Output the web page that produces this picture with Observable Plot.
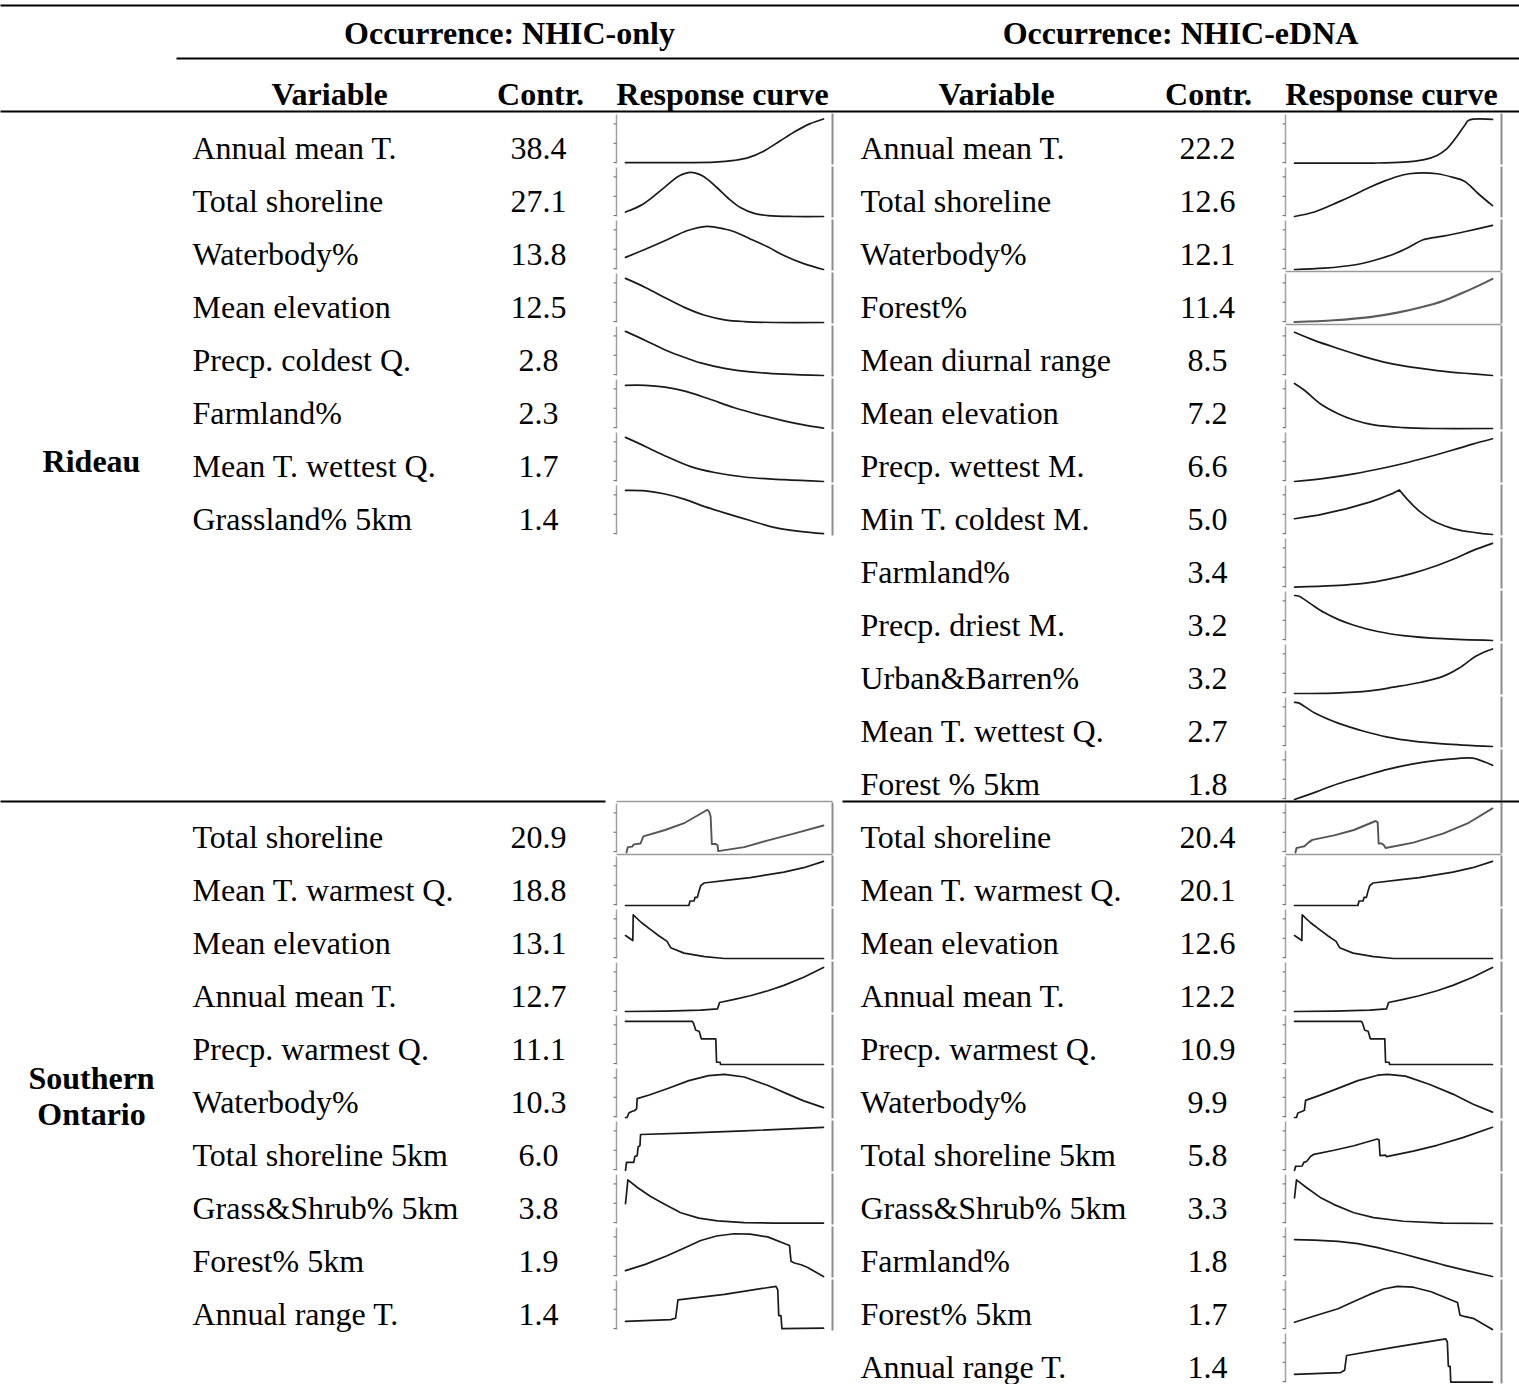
<!DOCTYPE html>
<html><head><meta charset="utf-8">
<script src="https://cdn.jsdelivr.net/npm/d3@7"></script>
<script src="https://cdn.jsdelivr.net/npm/@observablehq/plot@0.6"></script>
<style>body{margin:0;background:#fff}</style>
</head><body><div id="chart"></div>
<script>
// ---------------- DATA ----------------
const regions = ["Rideau", "Southern\nOntario"];
const occurrences = ["Occurrence: NHIC-only", "Occurrence: NHIC-eDNA"];
const columnHeaders = ["Variable", "Contr.", "Response curve"];

const rideauOnlyVars = ["Annual mean T.","Total shoreline","Waterbody%","Mean elevation","Precp. coldest Q.","Farmland%","Mean T. wettest Q.","Grassland% 5km"];
const rideauOnlyContr = [38.4,27.1,13.8,12.5,2.8,2.3,1.7,1.4];
const rideauOnlyCurves = [
 [[0,0.02],[0.3,0.02],[0.45,0.03],[0.55,0.07],[0.62,0.13],[0.7,0.28],[0.78,0.5],[0.86,0.72],[0.93,0.88],[1,0.99]],
 [[0,0.10],[0.09,0.28],[0.2,0.66],[0.27,0.9],[0.33,0.98],[0.39,0.9],[0.46,0.65],[0.52,0.4],[0.58,0.2],[0.65,0.07],[0.72,0.02],[0.85,0],[1,0]],
 [[0,0.27],[0.1,0.45],[0.21,0.66],[0.31,0.86],[0.41,0.96],[0.5,0.9],[0.55,0.84],[0.63,0.68],[0.72,0.5],[0.8,0.31],[0.9,0.13],[1,0]],
 [[0,0.98],[0.1,0.78],[0.2,0.55],[0.3,0.33],[0.4,0.16],[0.5,0.06],[0.6,0.02],[0.75,0],[1,0]],
 [[0,0.98],[0.1,0.78],[0.21,0.55],[0.3,0.4],[0.38,0.28],[0.5,0.16],[0.63,0.08],[0.8,0.03],[1,0]],
 [[0,0.96],[0.1,0.96],[0.2,0.92],[0.3,0.83],[0.42,0.66],[0.55,0.46],[0.68,0.3],[0.8,0.17],[0.9,0.08],[1,0.01]],
 [[0,0.98],[0.1,0.78],[0.21,0.55],[0.33,0.33],[0.45,0.2],[0.6,0.1],[0.8,0.04],[1,0]],
 [[0,0.98],[0.1,0.97],[0.2,0.9],[0.3,0.78],[0.4,0.62],[0.5,0.48],[0.63,0.31],[0.75,0.16],[0.88,0.07],[1,0.02]]
];

const rideauEdnaVars = ["Annual mean T.","Total shoreline","Waterbody%","Forest%","Mean diurnal range","Mean elevation","Precp. wettest M.","Min T. coldest M.","Farmland%","Precp. driest M.","Urban&Barren%","Mean T. wettest Q.","Forest % 5km"];
const rideauEdnaContr = [22.2,12.6,12.1,11.4,8.5,7.2,6.6,5.0,3.4,3.2,3.2,2.7,1.8];
const rideauEdnaCurves = [
 [[0,0.01],[0.4,0.01],[0.55,0.03],[0.65,0.08],[0.72,0.18],[0.77,0.33],[0.82,0.6],[0.86,0.85],[0.88,0.96],[1,0.98]],
 [[0,0],[0.1,0.1],[0.22,0.32],[0.3,0.48],[0.38,0.65],[0.45,0.78],[0.52,0.89],[0.58,0.95],[0.65,0.97],[0.72,0.95],[0.8,0.87],[0.86,0.78],[0.93,0.5],[1,0.24]],
 [[0,0],[0.15,0.03],[0.3,0.1],[0.4,0.2],[0.5,0.34],[0.58,0.5],[0.65,0.66],[0.75,0.74],[0.87,0.85],[1,0.98]],
 [[0,0.01],[0.2,0.05],[0.38,0.12],[0.52,0.22],[0.64,0.34],[0.75,0.48],[0.85,0.66],[0.93,0.82],[1,0.97]],
 [[0,0.96],[0.1,0.78],[0.22,0.6],[0.35,0.42],[0.47,0.28],[0.6,0.18],[0.72,0.11],[0.86,0.05],[1,0]],
 [[0,1],[0.05,0.85],[0.13,0.55],[0.22,0.33],[0.3,0.19],[0.4,0.08],[0.55,0.02],[0.7,0],[1,0]],
 [[0,0],[0.15,0.07],[0.3,0.17],[0.45,0.3],[0.55,0.4],[0.68,0.55],[0.8,0.7],[0.9,0.83],[1,0.95]],
 [[0,0.35],[0.06,0.39],[0.12,0.43],[0.17,0.48],[0.22,0.53],[0.26,0.57],[0.3,0.62],[0.34,0.67],[0.38,0.72],[0.42,0.78],[0.46,0.85],[0.5,0.92],[0.53,0.99],[0.55,0.88],[0.57,0.78],[0.6,0.64],[0.63,0.52],[0.66,0.42],[0.69,0.33],[0.72,0.26],[0.76,0.19],[0.8,0.13],[0.85,0.08],[0.9,0.05],[0.95,0.02],[1,0]],
 [[0,0.01],[0.2,0.04],[0.35,0.09],[0.47,0.18],[0.6,0.32],[0.72,0.49],[0.82,0.66],[0.9,0.82],[1,0.98]],
 [[0,1],[0.02,0.99],[0.08,0.82],[0.15,0.62],[0.22,0.47],[0.3,0.34],[0.42,0.2],[0.55,0.11],[0.75,0.04],[1,0]],
 [[0,0],[0.2,0.01],[0.38,0.06],[0.5,0.14],[0.64,0.25],[0.75,0.38],[0.83,0.56],[0.92,0.84],[1,0.99]],
 [[0,0.98],[0.02,0.97],[0.1,0.75],[0.22,0.52],[0.35,0.34],[0.47,0.21],[0.6,0.12],[0.75,0.06],[1,0]],
 [[0,0],[0.11,0.17],[0.22,0.35],[0.35,0.52],[0.47,0.67],[0.6,0.79],[0.72,0.87],[0.82,0.91],[0.9,0.92],[1,0.76]]
];

const southOnlyVars = ["Total shoreline","Mean T. warmest Q.","Mean elevation","Annual mean T.","Precp. warmest Q.","Waterbody%","Total shoreline 5km","Grass&Shrub% 5km","Forest% 5km","Annual range T."];
const southOnlyContr = [20.9,18.8,13.1,12.7,11.1,10.3,6.0,3.8,1.9,1.4];
const southOnlyCurves = [
 [[0.005,0],[0.012,0.12],[0.034,0.13],[0.042,0.18],[0.076,0.2],[0.09,0.36],[0.2,0.5],[0.3,0.66],[0.414,0.95],[0.423,0.9],[0.43,0.8],[0.436,0.19],[0.456,0.19],[0.465,0.16],[0.468,0.03],[0.6,0.12],[0.72,0.27],[0.85,0.42],[1,0.6]],
 [[0,0],[0.32,0],[0.326,0.1],[0.346,0.1],[0.351,0.18],[0.363,0.18],[0.372,0.33],[0.38,0.44],[0.397,0.5],[0.55,0.58],[0.63,0.62],[0.8,0.74],[0.9,0.84],[1,0.98]],
 [[0,0.51],[0.037,0.4],[0.039,0.97],[0.08,0.8],[0.127,0.64],[0.17,0.5],[0.21,0.38],[0.228,0.24],[0.296,0.12],[0.4,0.04],[0.5,0],[1,0]],
 [[0,0],[0.2,0.01],[0.38,0.03],[0.465,0.06],[0.475,0.2],[0.55,0.27],[0.63,0.35],[0.72,0.46],[0.8,0.58],[0.9,0.76],[1,0.98]],
 [[0,0.96],[0.338,0.96],[0.343,0.92],[0.355,0.76],[0.372,0.74],[0.376,0.68],[0.383,0.57],[0.456,0.57],[0.46,0.05],[0.478,0.05],[0.48,0],[1,0]],
 [[0,0],[0.008,0],[0.017,0.1],[0.034,0.14],[0.045,0.15],[0.056,0.19],[0.059,0.42],[0.12,0.5],[0.21,0.64],[0.32,0.82],[0.42,0.93],[0.5,0.96],[0.6,0.9],[0.72,0.71],[0.82,0.52],[0.9,0.37],[1,0.22]],
 [[0,0],[0.005,0.18],[0.042,0.18],[0.047,0.31],[0.059,0.33],[0.064,0.53],[0.073,0.55],[0.076,0.8],[0.3,0.83],[0.6,0.88],[1,0.96]],
 [[0,0.44],[0.012,0.97],[0.06,0.8],[0.127,0.6],[0.2,0.42],[0.279,0.24],[0.37,0.12],[0.465,0.06],[0.6,0.02],[0.75,0.01],[1,0.01]],
 [[0,0.13],[0.1,0.27],[0.21,0.46],[0.3,0.64],[0.38,0.8],[0.46,0.9],[0.549,0.95],[0.63,0.94],[0.718,0.88],[0.828,0.69],[0.836,0.34],[0.853,0.3],[0.887,0.26],[0.92,0.2],[1,0]],
 [[0,0.18],[0.228,0.22],[0.253,0.25],[0.265,0.66],[0.5,0.78],[0.76,0.96],[0.769,0.88],[0.774,0.31],[0.785,0.31],[0.79,0.02],[1,0.03]]
];

const southEdnaVars = ["Total shoreline","Mean T. warmest Q.","Mean elevation","Annual mean T.","Precp. warmest Q.","Waterbody%","Total shoreline 5km","Grass&Shrub% 5km","Farmland%","Forest% 5km","Annual range T."];
const southEdnaContr = [20.4,20.1,12.6,12.2,10.9,9.9,5.8,3.3,1.8,1.7,1.4];
const southEdnaCurves = [
 [[0.005,0],[0.01,0.1],[0.03,0.12],[0.05,0.14],[0.07,0.22],[0.09,0.28],[0.2,0.38],[0.3,0.5],[0.41,0.7],[0.42,0.67],[0.425,0.2],[0.44,0.2],[0.45,0.17],[0.46,0.1],[0.6,0.22],[0.75,0.42],[0.88,0.66],[1,0.98]],
 [[0,0],[0.32,0],[0.326,0.1],[0.346,0.1],[0.351,0.18],[0.363,0.18],[0.372,0.33],[0.38,0.44],[0.397,0.5],[0.55,0.58],[0.63,0.62],[0.8,0.74],[0.9,0.84],[1,0.98]],
 [[0,0.51],[0.037,0.4],[0.039,0.97],[0.08,0.8],[0.127,0.64],[0.17,0.5],[0.21,0.38],[0.228,0.24],[0.296,0.12],[0.4,0.04],[0.5,0],[1,0]],
 [[0,0],[0.2,0.01],[0.38,0.03],[0.465,0.06],[0.475,0.2],[0.55,0.27],[0.63,0.35],[0.72,0.46],[0.8,0.58],[0.9,0.76],[1,0.98]],
 [[0,0.96],[0.338,0.96],[0.343,0.92],[0.355,0.76],[0.372,0.74],[0.376,0.68],[0.383,0.57],[0.456,0.57],[0.46,0.05],[0.478,0.05],[0.48,0],[1,0]],
 [[0,0],[0.01,0],[0.017,0.1],[0.04,0.14],[0.05,0.16],[0.056,0.38],[0.12,0.48],[0.21,0.63],[0.32,0.82],[0.42,0.94],[0.47,0.96],[0.56,0.92],[0.68,0.74],[0.8,0.52],[0.9,0.3],[1,0.12]],
 [[0,0],[0.005,0.09],[0.039,0.1],[0.047,0.18],[0.061,0.2],[0.081,0.31],[0.098,0.36],[0.2,0.45],[0.3,0.55],[0.418,0.7],[0.427,0.68],[0.432,0.33],[0.46,0.34],[0.465,0.31],[0.6,0.43],[0.72,0.56],[0.85,0.73],[1,0.96]],
 [[0,0.57],[0.01,0.97],[0.06,0.8],[0.13,0.58],[0.2,0.42],[0.3,0.24],[0.4,0.13],[0.55,0.05],[0.75,0.01],[1,0]],
 [[0,0.82],[0.1,0.81],[0.22,0.78],[0.32,0.73],[0.42,0.64],[0.55,0.5],[0.65,0.38],[0.75,0.26],[0.87,0.13],[1,0]],
 [[0,0.16],[0.1,0.3],[0.22,0.46],[0.3,0.62],[0.38,0.78],[0.45,0.9],[0.519,0.96],[0.6,0.94],[0.69,0.84],[0.823,0.6],[0.836,0.32],[0.857,0.29],[0.907,0.24],[1,0]],
 [[0,0.18],[0.233,0.22],[0.253,0.27],[0.263,0.6],[0.5,0.78],[0.764,0.97],[0.772,0.9],[0.777,0.36],[0.786,0.36],[0.789,0.01],[1,0.01]]
];

// ---------------- LAYOUT (code) ----------------
const W = 1519, H = 1384;
const ROW0 = 112, ROWH = 53;
const rowTop = r => ROW0 + ROWH * r;
const sides = [
  {varX: 192, contrX: 538, axisX: 616, c0: 625, c1: 823, borderX: 832, hdr: [329, 540, 722], occ: 509},
  {varX: 860, contrX: 1207, axisX: 1285, c0: 1294, c1: 1492, borderX: 1501, hdr: [996, 1208, 1391], occ: 1180}
];
const panels = [
  {region: 0, side: 0, row0: 0, vars: rideauOnlyVars, contr: rideauOnlyContr, curves: rideauOnlyCurves, smooth: true},
  {region: 0, side: 1, row0: 0, vars: rideauEdnaVars, contr: rideauEdnaContr, curves: rideauEdnaCurves, smooth: true},
  {region: 1, side: 0, row0: 13, vars: southOnlyVars, contr: southOnlyContr, curves: southOnlyCurves, smooth: false},
  {region: 1, side: 1, row0: 13, vars: southEdnaVars, contr: southEdnaContr, curves: southEdnaCurves, smooth: false}
];
const boxed = new Set(["0-1-3", "1-0-0", "1-1-0"]);
const cuspKeys = new Set(["0-1-7"]);

const varTexts = [], numTexts = [], smoothPts = [], linearPts = [], fadedPts = [];
const axisSegs = [], tickSegs = [], borderSegs = [], boxSegs = [];
panels.forEach(p => {
  const s = sides[p.side];
  p.vars.forEach((v, i) => {
    const r = p.row0 + i, t = rowTop(r);
    varTexts.push({x: s.varX, y: t + 36, text: v});
    numTexts.push({x: s.contrX, y: t + 36, text: p.contr[i].toFixed(1)});
    const key = `${p.region}-${p.side}-${i}`;
    const target = boxed.has(key) && !p.smooth ? fadedPts
      : (p.smooth && !cuspKeys.has(key) ? smoothPts : linearPts);
    p.curves[i].forEach(([u, val]) => target.push({key, faded: boxed.has(key), x: s.c0 + u * (s.c1 - s.c0), y: t + 51 - 45 * val}));
    axisSegs.push({x1: s.axisX, x2: s.axisX, y1: t + 2, y2: t + 51});
    [0.02, 0.45, 0.88].forEach(f => tickSegs.push({x1: s.axisX - 3, x2: s.axisX, y1: t + 51 - 45 * f, y2: t + 51 - 45 * f}));
    borderSegs.push({x1: s.borderX, x2: s.borderX, y1: t + 1, y2: t + 52});
    if (boxed.has(key)) {
      boxSegs.push({x1: s.axisX, x2: s.borderX, y1: t, y2: t});
      boxSegs.push({x1: s.axisX, x2: s.borderX, y1: t + 53, y2: t + 53});
    }
  });
});
const smoothDark = smoothPts.filter(d => !d.faded);
const smoothFaded = smoothPts.filter(d => d.faded);
const headerTexts = [];
sides.forEach((s, k) => {
  headerTexts.push({x: s.occ, y: 33, text: occurrences[k]});
  columnHeaders.forEach((h, j) => headerTexts.push({x: s.hdr[j], y: 94, text: h}));
});
const regionTexts = [
  {x: 91, y: (rowTop(0) + rowTop(13)) / 2 + 3, text: regions[0]},
  {x: 91, y: (rowTop(13) + H) / 2 + 2, text: regions[1]}
];
const rules = [
  {x1: 0, x2: W, y1: 5, y2: 5},
  {x1: 176, x2: W, y1: 58, y2: 58},
  {x1: 0, x2: W, y1: 111, y2: 111},
  {x1: 0, x2: 605, y1: rowTop(13), y2: rowTop(13)},
  {x1: 842, x2: W, y1: rowTop(13), y2: rowTop(13)}
];

const font = "'Liberation Serif', 'Times New Roman', serif";
const FS = 32;
const chart = Plot.plot({
  width: W, height: H, margin: 0,
  x: {domain: [0, W], range: [0, W], axis: null},
  y: {domain: [0, H], range: [0, H], axis: null},
  style: {fontFamily: font, background: "#fff"},
  marks: [
    Plot.link(boxSegs, {x1: "x1", y1: "y1", x2: "x2", y2: "y2", stroke: "#9a9a9a", strokeWidth: 1.3}),
    Plot.link(axisSegs, {x1: "x1", y1: "y1", x2: "x2", y2: "y2", stroke: "#a0a0a0", strokeWidth: 1.5}),
    Plot.link(tickSegs, {x1: "x1", y1: "y1", x2: "x2", y2: "y2", stroke: "#666", strokeWidth: 1}),
    Plot.link(borderSegs, {x1: "x1", y1: "y1", x2: "x2", y2: "y2", stroke: "#8c8c8c", strokeWidth: 2}),
    Plot.link(rules, {x1: "x1", y1: "y1", x2: "x2", y2: "y2", stroke: "#000", strokeWidth: 2.2}),
    Plot.line(smoothDark, {x: "x", y: "y", z: "key", curve: "catmull-rom", stroke: "#1a1a1a", strokeWidth: 1.7}),
    Plot.line(smoothFaded, {x: "x", y: "y", z: "key", curve: "catmull-rom", stroke: "#5a5a5a", strokeWidth: 2.1}),
    Plot.line(linearPts, {x: "x", y: "y", z: "key", curve: "linear", stroke: "#1a1a1a", strokeWidth: 1.7}),
    Plot.line(fadedPts, {x: "x", y: "y", z: "key", curve: "linear", stroke: "#555", strokeWidth: 1.9}),
    Plot.text(varTexts, {x: "x", y: "y", text: "text", textAnchor: "start", fontSize: FS, fill: "#000"}),
    Plot.text(numTexts, {x: "x", y: "y", text: "text", textAnchor: "middle", fontSize: FS, fill: "#000"}),
    Plot.text(headerTexts, {x: "x", y: "y", text: "text", textAnchor: "middle", fontSize: FS, fontWeight: "bold", fill: "#000"}),
    Plot.text(regionTexts, {x: "x", y: "y", text: "text", textAnchor: "middle", fontSize: FS, fontWeight: "bold", lineHeight: 1.13, fill: "#000"})
  ]
});
document.getElementById("chart").appendChild(chart);
</script>
</body></html>
